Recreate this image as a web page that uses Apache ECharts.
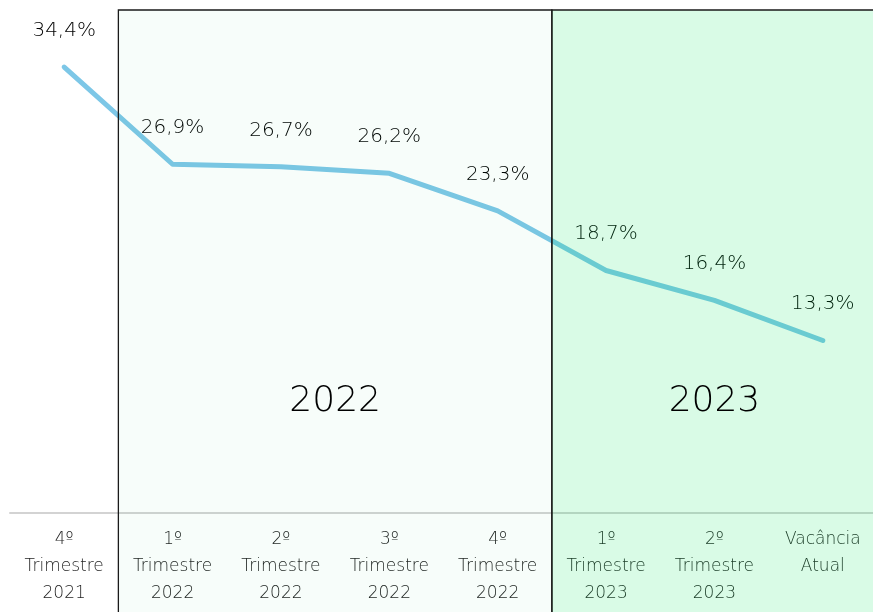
<!DOCTYPE html>
<html>
<head>
<meta charset="utf-8">
<script src="https://cdn.jsdelivr.net/npm/echarts@6/dist/echarts.min.js"></script>
<style>
  html, body { margin: 0; padding: 0; background: #fff; }
  #chart { width: 873px; height: 612px; }
</style>
</head>
<body>
<div id="chart"></div>
<script>
const categories = [
  '4º\nTrimestre\n2021',
  '1º\nTrimestre\n2022',
  '2º\nTrimestre\n2022',
  '3º\nTrimestre\n2022',
  '4º\nTrimestre\n2022',
  '1º\nTrimestre\n2023',
  '2º\nTrimestre\n2023',
  'Vacância\nAtual'
];
const vacancia = [34.4, 26.9, 26.7, 26.2, 23.3, 18.7, 16.4, 13.3];
// year blocks: [start slot, end slot, label]
const yearBlocks = [
  [1, 5, '2022'],
  [5, 8, '2023']
];

const FONT = '"DejaVu Sans", sans-serif';
const chart = echarts.init(document.getElementById('chart'));

const option = {
  backgroundColor: '#ffffff',
  animation: false,
  grid: { left: 10, right: -4, top: 10, bottom: -2, outerBoundsMode: 'none', containLabel: false },
  xAxis: [
    {
      type: 'category',
      data: categories,
      boundaryGap: true,
      position: 'bottom',
      offset: -101,
      axisLine: { onZero: false, lineStyle: { color: '#d3d3d3', width: 2 } },
      axisTick: { show: false },
      axisLabel: {
        interval: 0,
        margin: 13,
        color: '#1e1e1e',
        fontFamily: FONT,
        fontWeight: 200,
        fontSize: 17,
        lineHeight: 27
      }
    },
    { type: 'value', min: 0, max: categories.length, show: false }
  ],
  yAxis: {
    type: 'value',
    min: -7.8,
    max: 38.8,
    show: false,
    splitLine: { show: false }
  },
  series: [
    {
      type: 'line',
      data: vacancia,
      z: 2,
      symbol: 'circle',
      symbolSize: 1,
      showSymbol: true,
      itemStyle: { color: '#7dc7e7' },
      lineStyle: { color: '#7dc7e7', width: 5, cap: 'round', join: 'round' },
      label: {
        show: true,
        position: 'top',
        distance: 26,
        color: '#000',
        fontFamily: FONT,
        fontWeight: 200,
        fontSize: 20,
        formatter: p => p.value.toFixed(1).replace('.', ',') + '%'
      }
    },
    {
      type: 'line',
      xAxisIndex: 1,
      data: [],
      z: 10,
      silent: true,
      markArea: {
        z: 10,
        silent: true,
        data: yearBlocks.map((b, i) => [
          {
            xAxis: b[0],
            itemStyle: {
              color: i === 0 ? 'rgba(0,200,100,0.03)' : 'rgba(0,230,90,0.15)',
              borderColor: '#1a1a1a',
              borderWidth: 1.3
            },
            label: {
              show: true,
              formatter: b[2],
              position: 'inside',
              offset: [0, 90],
              color: '#000',
              fontFamily: FONT,
              fontWeight: 200,
              fontSize: 36
            }
          },
          { xAxis: b[1] }
        ])
      }
    }
  ]
};

chart.setOption(option);
</script>
</body>
</html>
